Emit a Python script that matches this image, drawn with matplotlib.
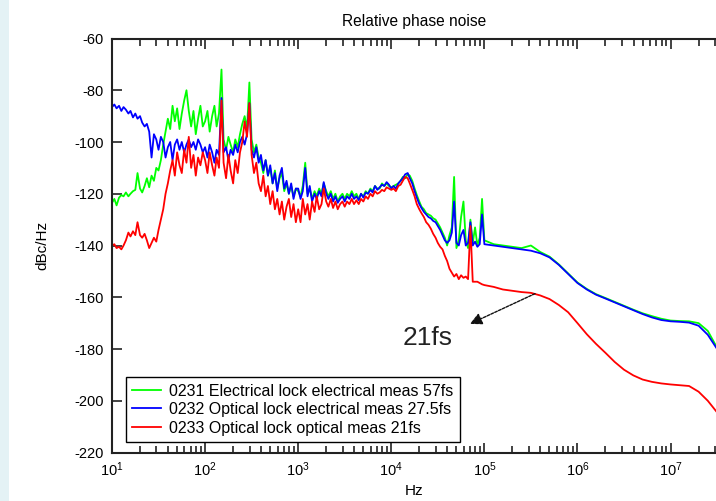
import matplotlib
matplotlib.use("Agg")
import matplotlib.pyplot as plt
from matplotlib.patches import Rectangle
from matplotlib.ticker import LogLocator, NullFormatter

plt.rcParams['font.family'] = ['Liberation Sans', 'DejaVu Sans']
plt.rcParams['mathtext.fontset'] = 'custom'
plt.rcParams['mathtext.rm'] = 'Liberation Sans'
plt.rcParams['mathtext.it'] = 'Liberation Sans'
plt.rcParams['axes.unicode_minus'] = False

# ---------------- data ----------------
freq_hz = [
    10, 10.6, 11.2, 11.9, 12.6, 13.3, 14.1, 15.0, 15.8, 16.8, 17.8, 18.8, 20.0, 21.1, 22.4, 23.7, 25.1, 26.6, 28.2, 29.9,
    31.6, 33.5, 35.5, 37.6, 39.8, 42.2, 44.7, 47.3, 50.1, 53.1, 56.2, 59.6, 63.1, 66.8, 70.8, 75.0, 79.4, 84.1, 89.1, 94.4,
    100, 106, 112, 119, 126, 133, 141, 150, 158, 168, 178, 188, 200, 211, 224, 237, 251, 266, 282, 299,
    316, 335, 355, 376, 398, 422, 447, 473, 501, 531, 562, 596, 631, 668, 708, 750, 794, 841, 891, 944,
    1000, 1060, 1120, 1190, 1260, 1330, 1410, 1500, 1580, 1680, 1780, 1880, 2000, 2110, 2240, 2370, 2510, 2660, 2820, 2990,
    3160, 3350, 3550, 3760, 3980, 4220, 4470, 4730, 5010, 5310, 5620, 5960, 6310, 6680, 7080, 7500, 7940, 8410, 8910, 9440,
    10000, 10600, 11200, 11900, 12600, 13300, 14100, 15000, 15800, 16800, 17800, 18800, 20000, 21100, 22400, 23700, 25100, 26600, 28200, 29900,
    31600, 33500, 35500, 37600, 39800, 42200, 44700, 47300, 50100, 53100, 56200, 59600, 63100, 66800, 70800, 75000, 79400, 84100, 89100, 94400,
    1.00e5, 1.26e5, 1.58e5, 2.00e5, 2.51e5, 3.16e5, 3.98e5, 5.01e5, 6.31e5, 7.94e5,
    1.00e6, 1.26e6, 1.58e6, 2.00e6, 2.51e6, 3.16e6, 3.98e6, 5.01e6, 6.31e6, 7.94e6,
    1.00e7, 1.26e7, 1.58e7, 2.00e7, 2.51e7, 3.16e7,
]

elec_lock_elec_meas = [  # 0231, green
    -123.5, -122, -124.5, -121.5, -120.5, -121, -119.5, -121, -120, -119, -118.5, -112, -118, -119.5, -117, -114, -117.5, -113, -115, -110,
    -111, -107, -101, -96, -91, -95, -86, -92, -87, -95, -89, -84, -80, -88, -94, -88, -97, -91, -86, -94,
    -92, -88, -96, -90, -86, -94, -89, -72, -99, -103, -98, -101, -104, -99, -102, -97, -93, -90, -95, -77,
    -99, -104, -101, -106, -108, -112, -107, -113, -110, -116, -111, -118, -114, -112, -119, -116, -120, -117, -121, -118,
    -119, -121, -117, -108, -120, -118, -122, -119, -121, -118, -120, -116, -119, -121, -119, -122, -120, -123, -121, -120,
    -122, -120, -121, -119, -121, -120, -122, -120, -121, -119, -120, -118, -119, -117, -118, -118, -116, -117, -116, -117,
    -117.5, -117, -116.5, -116, -115, -113.5, -114, -112.5, -113, -115, -118, -120.5, -123, -125, -126, -127.5, -128, -128.5, -129.5, -130,
    -131.5, -133, -135, -137, -140, -136, -133, -113.5, -141, -138, -129, -123, -138, -141, -130, -139, -133, -140, -137, -122,
    -138, -139.5, -140, -140.5, -141, -140, -142.5, -144.3, -147.3, -150.8,
    -154.3, -156.8, -158.8, -160.3, -161.8, -163.3, -164.8, -166.2, -167.3, -168.3,
    -169, -169.2, -169.3, -170, -173, -179.5,
]

opt_lock_elec_meas = [  # 0232, blue
    -86.5, -85.5, -87, -86, -88, -86.5, -87.5, -89, -88, -90.5, -89, -91, -90, -92.5, -94, -93, -96, -106, -97, -99,
    -103, -98, -100, -106, -102, -100, -107, -101, -99, -103, -100, -104, -101, -99, -102, -100, -103, -99, -101, -104,
    -102, -106, -101, -104, -108, -103, -105, -83, -104, -102, -107, -103, -105, -101, -104, -100, -98, -101, -97, -85,
    -103, -106, -102, -108, -105, -111, -107, -113, -109, -116, -112, -119, -113, -110, -118, -115, -120, -116, -122, -118,
    -118, -122, -119, -110, -121, -117, -123, -120, -122, -119, -121, -115.5, -120, -122, -120, -123, -121, -123.5, -122, -121,
    -123, -121, -122, -120, -122, -121, -122.5, -120, -121.5, -119.5, -120, -118.5, -119.5, -117, -118.5, -117.5, -116.5, -117, -115.5, -116.5,
    -118, -117, -118, -116, -115, -114, -112.5, -112, -114, -116, -119, -121.5, -124, -125.5, -127, -128, -129, -129.5, -130.5, -131,
    -132.5, -134, -136, -138, -139, -138, -135, -123, -139, -140, -136, -134, -140, -139, -131, -140, -138.5, -140.5, -139.5, -128,
    -139.5, -140, -140.5, -141, -141.5, -142, -143, -144.6, -147.5, -151,
    -154.5, -157, -159, -160.5, -162, -163.5, -165, -166.5, -167.8, -168.8,
    -169.3, -169.5, -169.8, -171, -174.5, -180,
]

opt_lock_opt_meas = [  # 0233, red
    -140, -139.5, -141, -140.5, -141.5, -140, -138, -135, -136.5, -134.5, -136, -131, -136, -137, -135.5, -138, -141, -139, -137, -138.5,
    -134, -130, -126, -120, -116, -111, -107, -113, -104, -109, -112, -103, -108, -98, -110, -105, -113, -106, -109, -104,
    -107, -112, -104, -109, -113, -106, -110, -84, -108, -114, -105, -111, -116, -107, -112, -104, -100, -92, -98, -85,
    -105, -112, -108, -116, -119, -113, -121, -117, -124, -119, -126, -122, -128, -123, -130, -125, -122, -129, -124, -131,
    -126, -131, -122, -128, -124, -130, -123, -127, -121, -126, -124, -118, -123, -125, -122, -125.5, -123, -126, -124, -123,
    -125, -123, -124, -122, -124, -122.5, -124, -122, -123, -121, -122, -120, -121, -119, -120, -119.5, -118.5, -119, -117.5, -118,
    -118.5, -118, -119, -117, -116.5, -115, -113.5, -114, -116, -118.5, -121, -124, -126, -127.5, -129, -131, -132, -133.5, -135.5, -137,
    -139, -140.5, -141.5, -144, -146, -149, -150.5, -152, -151, -153, -151.5, -152.5, -152, -153, -132.5, -154, -154, -154, -154.5, -155,
    -155.3, -156, -157, -157.5, -158, -158.3, -159.3, -160.7, -163, -165.8,
    -170, -174.3, -178, -181.5, -185, -188, -190.2, -191.8, -192.7, -193.3,
    -193.7, -194, -194.3, -196.5, -200, -204.5,
]

series_labels = [
    "0231 Electrical lock electrical meas 57fs",
    "0232 Optical lock electrical meas 27.5fs",
    "0233 Optical lock optical meas 21fs",
]
series_colors = ["#00ff00", "#0000ff", "#ff0000"]
y_ticks = [-220, -200, -180, -160, -140, -120, -100, -80, -60]
annot_text = "21fs"
annot_from = (3.5e5, -158.6)
annot_to = (7.0e4, -170.3)
annot_text_pos = (1.33e4, -175.7)

# ---------------- figure ----------------
W, H = 716, 501
fig = plt.figure(figsize=(W / 100, H / 100), dpi=100)
fig.patches.append(Rectangle((0, 0), 9 / W, 1, transform=fig.transFigure,
                             facecolor="#e4f2f5", edgecolor="none", zorder=-10))

ax = fig.add_axes([112 / W, 48.5 / H, 604 / W, 414 / H])

for vals, lab, col in zip([elec_lock_elec_meas, opt_lock_elec_meas, opt_lock_opt_meas],
                          series_labels, series_colors):
    ax.plot(freq_hz, vals, color=col, lw=1.3, label=lab)

ax.set_xscale("log")
ax.set_xlim(10, 10 ** 7.488)
ax.set_ylim(-220, -60)
ax.set_yticks(y_ticks)
ax.xaxis.set_major_locator(LogLocator(base=10, numticks=12))
ax.xaxis.set_minor_locator(LogLocator(base=10, subs=range(2, 10), numticks=12))
ax.xaxis.set_minor_formatter(NullFormatter())

ax.tick_params(which="both", direction="in", top=True, right=False,
               labelsize=10.5, color="#222222", width=1.2, pad=6)
ax.tick_params(which="major", length=7)
ax.tick_params(which="minor", length=5)
for s in ["left", "top", "bottom"]:
    ax.spines[s].set_linewidth(1.5)
    ax.spines[s].set_color("#222222")
ax.spines["right"].set_visible(False)

ax.set_title("Relative phase noise", fontsize=11.2, pad=9)
ax.set_xlabel("Hz", fontsize=11, labelpad=3)
ax.set_ylabel("dBc/Hz", fontsize=11, labelpad=18)

leg = ax.legend(loc="lower left", bbox_to_anchor=(0.0232, 0.0254), borderaxespad=0,
                fontsize=11.5, fancybox=False, framealpha=1, edgecolor="black",
                handlelength=1.8, handletextpad=0.5, labelspacing=0.22,
                borderpad=0.4)
leg.get_frame().set_linewidth(1.0)

ax.annotate("", xy=annot_to, xytext=annot_from,
            arrowprops=dict(arrowstyle="-|>", color="#111111", lw=1.0,
                            linestyle=(0, (2, 1)), mutation_scale=18,
                            shrinkA=0, shrinkB=0))
ax.text(annot_text_pos[0], annot_text_pos[1], annot_text, fontsize=19,
        color="#222222", ha="left", va="center")

fig.savefig("out.png", dpi=100)
